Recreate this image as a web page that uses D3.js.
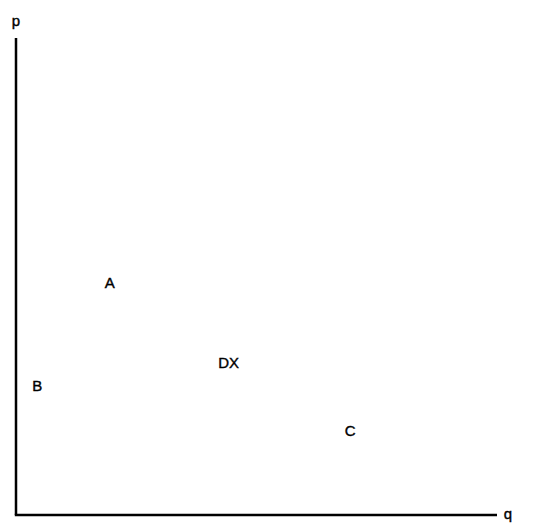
<!DOCTYPE html>
<html>
<head>
<meta charset="utf-8">
<script src="https://cdn.jsdelivr.net/npm/d3@7"></script>
<style>
  body { margin: 0; background: #fff; }
  text { font-family: "Liberation Sans", Arial, sans-serif; stroke: #000; stroke-width: 0.4; }
</style>
</head>
<body>
<svg id="chart" width="535" height="528"></svg>
<script>
// points, axis units 0..10
const labels = ["A", "B", "DX", "C"];
const qVals = [1.95, 0.44, 4.42, 6.95];
const pVals = [4.86, 2.7, 3.19, 1.76];

const svg = d3.select("#chart");
const x = d3.scaleLinear().domain([0, 10]).range([16, 497]);
const y = d3.scaleLinear().domain([0, 10]).range([515, 38]);

// axes as plain lines, no ticks
svg.append("line")
  .attr("x1", x(0)).attr("y1", y(10)).attr("x2", x(0)).attr("y2", y(0))
  .attr("stroke", "#000").attr("stroke-width", 2.5);
svg.append("line")
  .attr("x1", x(0) - 1.2).attr("y1", y(0)).attr("x2", x(10)).attr("y2", y(0))
  .attr("stroke", "#000").attr("stroke-width", 2.5);

svg.append("text").attr("x", x(0)).attr("y", 26)
  .attr("text-anchor", "middle").attr("font-size", 15).text("p");
svg.append("text").attr("x", 508).attr("y", y(0) + 4)
  .attr("text-anchor", "middle").attr("font-size", 15).text("q");

svg.selectAll("text.pt")
  .data(labels)
  .join("text")
  .attr("class", "pt")
  .attr("x", (d, i) => x(qVals[i]))
  .attr("y", (d, i) => y(pVals[i]))
  .attr("dy", "0.35em")
  .attr("text-anchor", "middle")
  .attr("font-size", 15)
  .text(d => d);
</script>
</body>
</html>
